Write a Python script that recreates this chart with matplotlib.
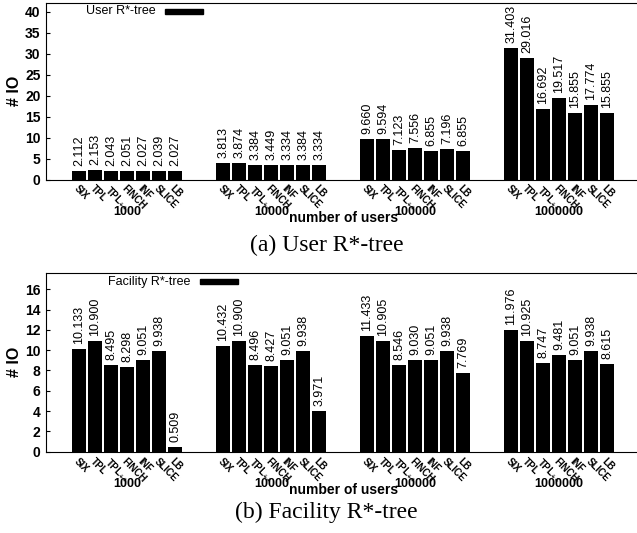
import numpy as np
import matplotlib
matplotlib.use("Agg")
import matplotlib.pyplot as plt
from matplotlib.patches import Rectangle

plt.rcParams['font.family'] = ['Liberation Sans', 'DejaVu Sans']
plt.rcParams['mathtext.fontset'] = 'custom'
plt.rcParams['mathtext.rm'] = 'Liberation Sans'
plt.rcParams['mathtext.bf'] = 'Liberation Sans:bold'

grupos = ['1000', '10000', '100000', '1000000']
metodos = ['SIX', 'TPL', r'TPL$_{\mathbf{++}}$', 'FINCH', 'INF', 'SLICE', 'LB']

io_user = [
    [2.112, 2.153, 2.043, 2.051, 2.027, 2.039, 2.027],
    [3.813, 3.874, 3.384, 3.449, 3.334, 3.384, 3.334],
    [9.660, 9.594, 7.123, 7.556, 6.855, 7.196, 6.855],
    [31.403, 29.016, 16.692, 19.517, 15.855, 17.774, 15.855],
]
io_facility = [
    [10.133, 10.900, 8.495, 8.298, 9.051, 9.938, 0.509],
    [10.432, 10.900, 8.496, 8.427, 9.051, 9.938, 3.971],
    [11.433, 10.905, 8.546, 9.030, 9.051, 9.938, 7.769],
    [11.976, 10.925, 8.747, 9.481, 9.051, 9.938, 8.615],
]

W, H = 637, 533
fig = plt.figure(figsize=(W / 100, H / 100), dpi=100)


def painel(pos, dados, ymax, ystep, legenda, leg_x, caption, cap_y):
    ax = fig.add_axes(pos)
    n = len(metodos)
    passo = n + 2
    xs_all = []
    for g, vals in enumerate(dados):
        xs = g * passo + np.arange(n)
        xs_all.extend(xs)
        ax.bar(xs, vals, width=0.875, color='black', edgecolor='none')
        for x, v in zip(xs, vals):
            ax.annotate(f"{v:.3f}", (x, v), xytext=(0, 5), textcoords='offset pixels',
                        rotation=90, ha='center', va='bottom', fontsize=9)
        ax.annotate(grupos[g], (g * passo + (n - 1) / 2, 0), xycoords=('data', 'axes fraction'),
                    xytext=(0, -32), textcoords='offset pixels',
                    ha='center', va='center', fontsize=9, fontweight='bold')
    ax.set_xticks(xs_all)
    ax.set_xticklabels(metodos * len(dados), rotation=-45, ha='left', va='top',
                       rotation_mode='anchor', fontsize=7, fontweight='bold')
    ax.tick_params(axis='x', length=0, pad=3)
    ax.tick_params(axis='y', direction='in', length=3, labelsize=10, pad=4)
    for lab in ax.get_yticklabels():
        lab.set_fontweight('bold')
    ax.set_yticks(np.arange(0, ymax, ystep))
    ax.set_ylim(0, ymax)
    ax.set_xlim(-2.08, 34.86)
    ax.spines['right'].set_visible(False)
    ax.set_ylabel('# IO', fontsize=11.5, fontweight='bold')
    ax.yaxis.set_label_coords(-0.041, 0.5)
    ax.annotate('number of users', (16.5, 0), xycoords=('data', 'axes fraction'),
                xytext=(0, -38), textcoords='offset pixels',
                ha='center', va='center', fontsize=10, fontweight='bold')

    # legenda
    ax.text(leg_x, 0.952, legenda, transform=ax.transAxes, ha='right', va='center', fontsize=9)
    ax.add_patch(Rectangle((leg_x + 0.015, 0.938), 0.065, 0.028, transform=ax.transAxes,
                           color='black', clip_on=False))

    fig.text(0.513, cap_y, caption, ha='center', va='center', fontsize=17,
             family=['Liberation Serif', 'DejaVu Serif'])
    return ax


painel([46 / W, 1 - 179.5 / H, 1 - 46 / W, (179.5 - 2.7) / H], io_user, 42.1, 5,
       'User R*-tree', 0.186, '(a) User R*-tree', 1 - 245 / H)
painel([46 / W, 1 - 451.7 / H, 1 - 46 / W, (451.7 - 273) / H], io_facility, 17.6, 2,
       'Facility R*-tree', 0.245, '(b) Facility R*-tree', 1 - 512 / H)

plt.savefig('out.png', dpi=100)
